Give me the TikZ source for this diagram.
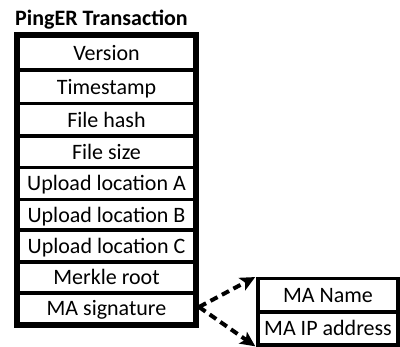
\documentclass[tikz,border=0pt]{standalone}
\usepackage{fontspec}
\setmainfont{Carlito}
\usetikzlibrary{arrows.meta}
\begin{document}
\begin{tikzpicture}[x=1pt,y=-1pt,
  rowbox/.style={draw, line width=3.8pt, inner sep=0pt, text height=17pt, text depth=2pt,
    font=\fontsize{22}{24}\selectfont},
  leftrow/.style={rowbox, minimum width=177pt},
  rightrow/.style={rowbox, minimum width=140pt},
  dasharrow/.style={line width=4pt, dash pattern=on 8pt off 5pt,
    -{Stealth[length=15pt,width=14pt,inset=3.5pt]}, shorten >=1pt}
]
\useasboundingbox (0,0) rectangle (400,347);
\node[anchor=base west, inner sep=0pt, font=\bfseries\fontsize{22}{24}\selectfont] (title) at (15,26) {PingER Transaction};

\node[leftrow, minimum height=34pt]   (version) at (106.5,53)     {Version};
\node[leftrow, minimum height=33.5pt] (tstamp)  at (106.5,86.75)  {Timestamp};
\node[leftrow, minimum height=32.5pt] (fhash)   at (106.5,119.75) {File hash};
\node[leftrow, minimum height=31.5pt] (fsize)   at (106.5,151.75) {File size};
\node[leftrow, minimum height=32pt]   (upa)     at (106.5,183.5)  {Upload location A};
\node[leftrow, minimum height=30.5pt] (upb)     at (106.5,214.75) {Upload location B};
\node[leftrow, minimum height=32pt]   (upc)     at (106.5,246)    {Upload location C};
\node[leftrow, minimum height=31pt]   (merkle)  at (106.5,277.5)  {Merkle root};
\node[leftrow, minimum height=31pt]   (masig)   at (106.5,308.5)  {MA signature};
\draw[line width=4.5pt] (version.north west) rectangle (masig.south east);

\node[rightrow, minimum height=33.5pt] (maname) at (328,295.25) {MA Name};
\node[rightrow, minimum height=33pt]   (maip)   at (328,328.5)  {MA IP address};

\coordinate (src) at (199,307);
\draw[dasharrow] (src) -- (maname.north west);
\draw[dasharrow] (src) -- (maip.south west);
\end{tikzpicture}
\end{document}
